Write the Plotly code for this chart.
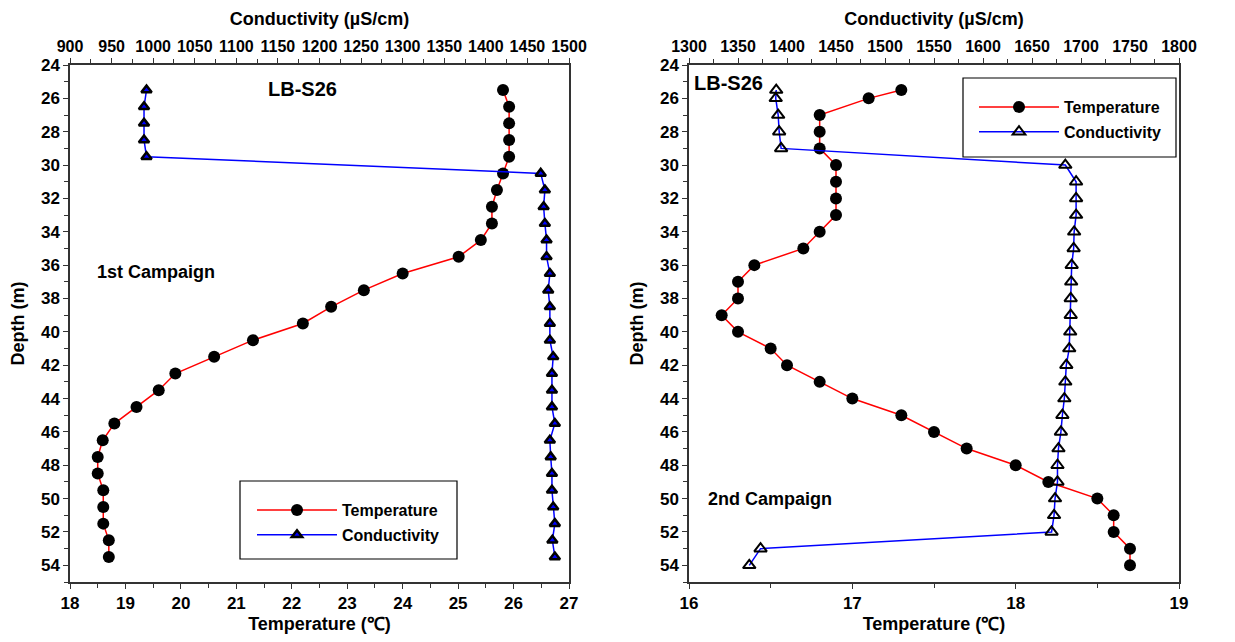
import plotly.graph_objects as go

# ---------------- data ----------------
depth1 = [25.5 + i for i in range(29)]  # 25.5 ... 53.5
temp1 = [25.81, 25.92, 25.92, 25.92, 25.92, 25.81, 25.70, 25.61, 25.61, 25.41,
         25.01, 24.00, 23.30, 22.71, 22.20, 21.30, 20.60, 19.90, 19.60, 19.20,
         18.80, 18.59, 18.50, 18.50, 18.60, 18.60, 18.60, 18.70, 18.70]
cond1 = [992, 989, 989, 989, 992, 1466, 1471, 1469.5, 1471, 1473,
         1473, 1477, 1475, 1477, 1477, 1477, 1481, 1479.5, 1479.5, 1479.5,
         1483, 1477, 1478, 1479.5, 1479.5, 1481, 1483, 1480, 1483]

depth2 = [25.5] + list(range(26, 55))  # 25.5, 26 ... 54
temp2 = [17.30, 17.10, 16.80, 16.80, 16.80, 16.90, 16.90, 16.90, 16.90, 16.80,
         16.70, 16.40, 16.30, 16.30, 16.20, 16.30, 16.50, 16.60, 16.80, 17.00,
         17.30, 17.50, 17.70, 18.00, 18.20, 18.50, 18.60, 18.60, 18.70, 18.70]
cond2 = [1389, 1388.5, 1391, 1392, 1394, 1684, 1695, 1695, 1695, 1693,
         1692.5, 1690.5, 1690, 1689.5, 1689.5, 1689, 1688, 1685, 1684, 1683,
         1681, 1679.5, 1677, 1676, 1676, 1673.5, 1672.5, 1670, 1373, 1361.5]

depth_ticks = list(range(24, 55, 2))  # 24 ... 54
FONT = "Liberation Sans, Arial, Helvetica, sans-serif"

# figure sits at an 8px page margin inside a 1235x642 window
W, H, OFF = 1219, 626, 8


def px(x):
    return (x - OFF) / W


def py(y):
    return 1 - (y - OFF) / H


fig = go.Figure()

# Panel 1
fig.add_trace(go.Scatter(
    x=temp1, y=depth1, name="Temperature", mode="lines+markers",
    line=dict(color="red", width=1.5),
    marker=dict(symbol="circle", size=12, color="black"),
    xaxis="x", yaxis="y", legend="legend", legendgroup="t1"))
fig.add_trace(go.Scatter(
    x=cond1, y=depth1, name="Conductivity", mode="lines+markers",
    line=dict(color="blue", width=1.5),
    marker=dict(symbol="triangle-up", size=9, color="blue",
                line=dict(color="black", width=2.5)),
    xaxis="x2", yaxis="y", legend="legend", legendgroup="c1"))

# Panel 2
fig.add_trace(go.Scatter(
    x=temp2, y=depth2, name="Temperature", mode="lines+markers",
    line=dict(color="red", width=1.5),
    marker=dict(symbol="circle", size=12, color="black"),
    xaxis="x3", yaxis="y2", legend="legend2", legendgroup="t2"))
fig.add_trace(go.Scatter(
    x=cond2, y=depth2, name="Conductivity", mode="lines+markers",
    line=dict(color="blue", width=1.5),
    marker=dict(symbol="triangle-up-open", size=11, color="black",
                line=dict(color="black", width=2)),
    xaxis="x4", yaxis="y2", legend="legend2", legendgroup="c2"))

tickfont = dict(family=FONT, size=17, color="black", weight="bold")
topfont = dict(family=FONT, size=16, color="black", weight="bold")
titlefont = dict(family=FONT, size=18, color="black", weight="bold")
axcol = "#333333"


def xbottom(dom, rng, dtick, minor):
    return dict(domain=dom, range=rng, dtick=dtick, tick0=rng[0],
                ticks="outside", ticklen=5, tickwidth=1.2, tickcolor=axcol,
                showline=True, linecolor=axcol, linewidth=1.5,
                showgrid=False, zeroline=False, tickfont=tickfont,
                automargin=False,
                minor=dict(dtick=minor, ticks="outside", ticklen=4,
                           tickcolor=axcol, showgrid=False),
                title=dict(text="Temperature (℃)", font=titlefont, standoff=7))


def xtop(over, anchor, rng, dtick):
    return dict(overlaying=over, anchor=anchor, side="top", range=rng,
                dtick=dtick, tick0=rng[0],
                ticks="outside", ticklen=5, tickwidth=1.2, tickcolor=axcol,
                showline=True, linecolor=axcol, linewidth=1.5,
                showgrid=False, zeroline=False, tickfont=topfont,
                automargin=False,
                minor=dict(dtick=dtick / 2, ticks="outside", ticklen=4,
                           tickcolor=axcol, showgrid=False),
                title=dict(text="Conductivity (µS/cm)", font=titlefont, standoff=8))


def yax(anchor):
    return dict(anchor=anchor, domain=[py(582), py(65)], range=[55, 24],
                tickvals=depth_ticks, ticks="outside", ticklen=5, tickwidth=1.2,
                tickcolor=axcol, showline=True, linecolor=axcol, linewidth=1.5,
                mirror=True, showgrid=False, zeroline=False, tickfont=tickfont,
                automargin=False,
                minor=dict(dtick=1, tick0=24, ticks="outside", ticklen=4,
                           tickcolor=axcol, showgrid=False),
                title=dict(text="Depth (m)", font=titlefont, standoff=12))


legfont = dict(family=FONT, size=16, color="black", weight="bold")

fig.update_layout(
    width=W, height=H,
    margin=dict(l=0, r=0, t=0, b=0),
    paper_bgcolor="white", plot_bgcolor="white",
    font=dict(family=FONT, color="black"),
    xaxis=xbottom([px(70), px(569)], [18, 27], 1, 0.5) | dict(anchor="y"),
    xaxis2=xtop("x", "y", [900, 1500], 50),
    xaxis3=xbottom([px(689), px(1179)], [16, 19], 1, 0.5) | dict(anchor="y2"),
    xaxis4=xtop("x3", "y2", [1300, 1800], 50),
    yaxis=yax("x"),
    yaxis2=yax("x3"),
    legend=dict(x=px(252), y=py(493), xanchor="left", yanchor="top",
                borderwidth=0, bgcolor="rgba(0,0,0,0)", font=legfont,
                itemwidth=80, tracegroupgap=1),
    legend2=dict(x=px(974), y=py(90), xanchor="left", yanchor="top",
                 borderwidth=0, bgcolor="rgba(0,0,0,0)", font=legfont,
                 itemwidth=80, tracegroupgap=1),
    shapes=[
        dict(type="rect", xref="paper", yref="paper",
             x0=px(240), x1=px(457), y0=py(559), y1=py(481),
             line=dict(color="black", width=1.2), fillcolor="white", layer="below"),
        dict(type="rect", xref="paper", yref="paper",
             x0=px(963), x1=px(1176), y0=py(157), y1=py(78),
             line=dict(color="black", width=1.2), fillcolor="white", layer="below"),
    ],
    annotations=[
        dict(text="LB-S26", x=px(302), y=py(89), xref="paper", yref="paper",
             xanchor="center", yanchor="middle", showarrow=False,
             font=dict(family=FONT, size=20, weight="bold")),
        dict(text="1st Campaign", x=px(95), y=py(272), xref="paper", yref="paper",
             xanchor="left", yanchor="middle", showarrow=False,
             font=dict(family=FONT, size=18, weight="bold")),
        dict(text="LB-S26", x=px(692), y=py(83), xref="paper", yref="paper",
             xanchor="left", yanchor="middle", showarrow=False,
             font=dict(family=FONT, size=20, weight="bold")),
        dict(text="2nd Campaign", x=px(706), y=py(499), xref="paper", yref="paper",
             xanchor="left", yanchor="middle", showarrow=False,
             font=dict(family=FONT, size=18, weight="bold")),
    ],
)

fig.write_html("out.html")
